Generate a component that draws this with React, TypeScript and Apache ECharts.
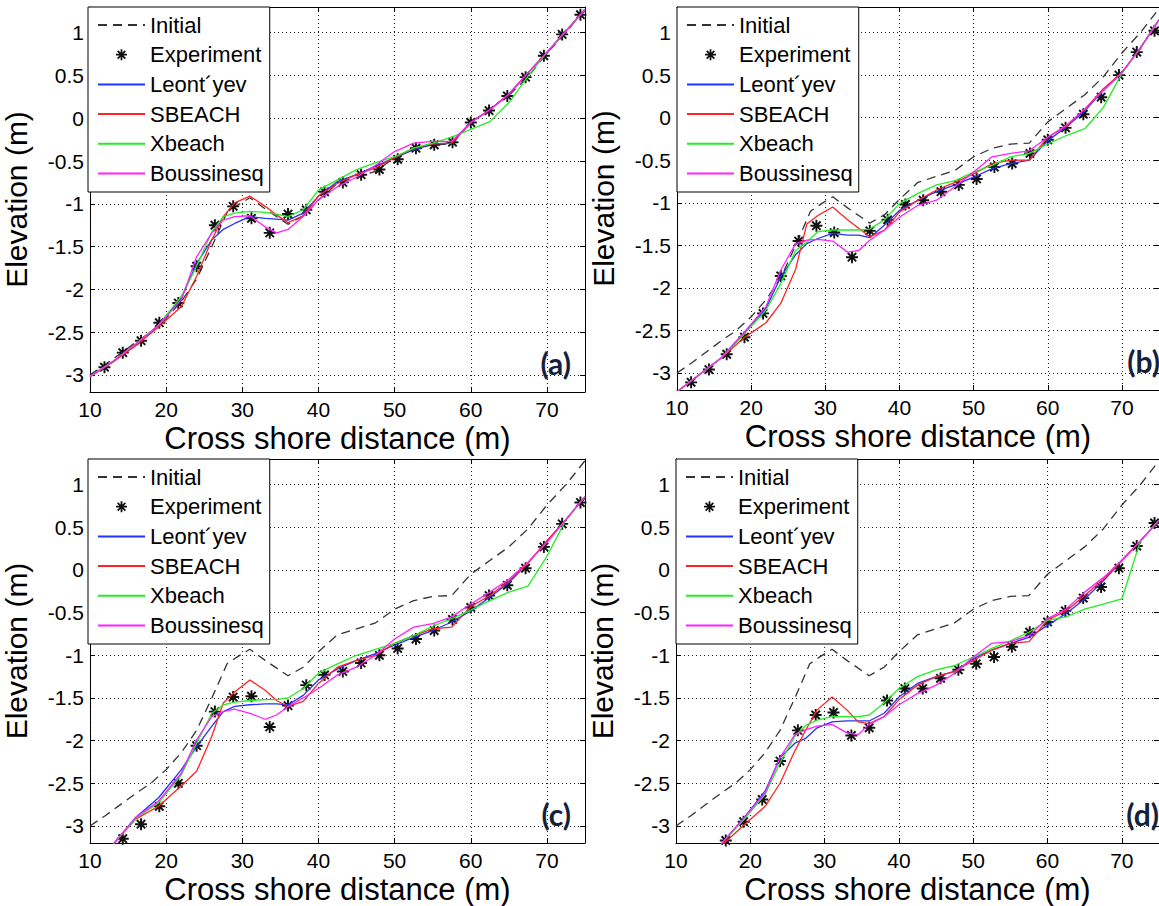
import React, { useEffect, useRef } from 'react';
import * as echarts from 'echarts';

// ---------- data ----------
const SERIES_NAMES = ['Initial', 'Experiment', 'Leont\u00B4yev', 'SBEACH', 'Xbeach', 'Boussinesq'];
const PANEL_LABELS = ['(a)', '(b)', '(c)', '(d)'];
const X_TICKS = [10, 20, 30, 40, 50, 60, 70];
const Y_TICKS = [-3, -2.5, -2, -1.5, -1, -0.5, 0, 0.5, 1];

// initial profile (same in every panel)
const INIT_X = [10, 12, 14, 16, 18, 20, 22, 24, 26, 28, 29.5, 31, 33, 36, 38, 40, 42.5, 45, 47.5, 50, 52.5, 55, 57.5, 60, 62.5, 65, 67.5, 70, 72.5, 75];
const INIT_Y = [-3.0, -2.88, -2.75, -2.62, -2.5, -2.34, -2.14, -1.88, -1.5, -1.1, -1.01, -0.93, -1.06, -1.24, -1.14, -0.96, -0.76, -0.69, -0.62, -0.46, -0.36, -0.31, -0.3, -0.05, 0.11, 0.27, 0.48, 0.76, 1.0, 1.28];

// measurement positions
const EXP_X = [11.9, 14.3, 16.7, 19.1, 21.6, 24.0, 26.4, 28.8, 31.2, 33.6, 36.0, 38.4, 40.8, 43.2, 45.6, 48.0, 50.4, 52.8, 55.2, 57.6, 60.0, 62.4, 64.8, 67.2, 69.6, 72.0, 74.4];
const EXP_A = [-2.91, -2.74, -2.6, -2.39, -2.16, -1.73, -1.25, -1.03, -1.17, -1.34, -1.12, -1.07, -0.86, -0.75, -0.66, -0.6, -0.48, -0.35, -0.31, -0.28, -0.05, 0.09, 0.26, 0.48, 0.73, 0.98, 1.21];
const EXP_B = [-3.11, -2.96, -2.78, -2.58, -2.3, -1.86, -1.45, -1.27, -1.35, -1.64, -1.33, -1.2, -1.02, -0.97, -0.87, -0.79, -0.72, -0.58, -0.54, -0.42, -0.26, -0.12, 0.04, 0.24, 0.5, 0.77, 1.02];
const EXP_C = [-3.33, -3.15, -2.98, -2.77, -2.5, -2.06, -1.66, -1.49, -1.48, -1.84, -1.59, -1.35, -1.23, -1.19, -1.09, -1.0, -0.92, -0.81, -0.71, -0.58, -0.44, -0.3, -0.18, 0.02, 0.27, 0.54, 0.79];
const EXP_D = [-3.55, -3.38, -3.17, -2.95, -2.69, -2.24, -1.88, -1.7, -1.67, -1.94, -1.85, -1.53, -1.39, -1.39, -1.27, -1.17, -1.1, -1.02, -0.9, -0.73, -0.61, -0.48, -0.33, -0.2, 0.02, 0.28, 0.55];

// model output positions
const MODEL_X = [10, 13, 16, 19, 22, 24, 26, 27.5, 29, 31, 33, 34.5, 36, 38, 40, 42.5, 45, 47.5, 50, 52.5, 55, 57.5, 60, 62.5, 65, 67.5, 70, 72.5, 75];

const LEON_A = [-3.02, -2.85, -2.65, -2.42, -2.1, -1.7, -1.42, -1.3, -1.23, -1.15, -1.17, -1.18, -1.19, -1.11, -0.91, -0.74, -0.66, -0.56, -0.46, -0.37, -0.3, -0.29, -0.05, 0.1, 0.28, 0.53, 0.77, 1.02, 1.27];
const SBEA_A = [-3.02, -2.85, -2.66, -2.44, -2.2, -1.85, -1.42, -1.15, -0.99, -0.91, -1.03, -1.13, -1.22, -1.14, -0.91, -0.76, -0.66, -0.58, -0.46, -0.35, -0.3, -0.29, -0.05, 0.1, 0.28, 0.53, 0.77, 1.02, 1.27];
const XBEA_A = [-3.02, -2.84, -2.64, -2.42, -2.08, -1.73, -1.33, -1.15, -1.11, -1.09, -1.1, -1.12, -1.15, -1.07, -0.84, -0.72, -0.6, -0.52, -0.45, -0.35, -0.29, -0.22, -0.13, -0.04, 0.18, 0.49, 0.77, 1.02, 1.27];
const BOUS_A = [-3.02, -2.84, -2.64, -2.42, -2.12, -1.62, -1.34, -1.19, -1.15, -1.14, -1.27, -1.34, -1.3, -1.15, -0.95, -0.8, -0.69, -0.55, -0.39, -0.29, -0.27, -0.27, -0.05, 0.1, 0.28, 0.53, 0.77, 1.02, 1.27];

const LEON_B = [-3.22, -3.02, -2.82, -2.53, -2.24, -1.87, -1.61, -1.48, -1.42, -1.36, -1.38, -1.38, -1.41, -1.26, -1.09, -0.97, -0.87, -0.79, -0.7, -0.6, -0.54, -0.5, -0.27, -0.11, 0.08, 0.32, 0.53, 0.82, 1.15];
const SBEA_B = [-3.22, -3.02, -2.82, -2.59, -2.41, -2.18, -1.78, -1.25, -1.15, -1.05, -1.2, -1.3, -1.4, -1.32, -1.11, -0.97, -0.85, -0.76, -0.66, -0.54, -0.5, -0.5, -0.23, -0.1, 0.1, 0.34, 0.53, 0.82, 1.15];
const XBEA_B = [-3.22, -3.02, -2.82, -2.55, -2.26, -1.95, -1.56, -1.46, -1.34, -1.32, -1.32, -1.32, -1.31, -1.2, -1.01, -0.89, -0.79, -0.74, -0.64, -0.56, -0.46, -0.42, -0.31, -0.21, -0.13, 0.12, 0.52, 0.82, 1.15];
const BOUS_B = [-3.22, -3.02, -2.82, -2.53, -2.22, -1.79, -1.48, -1.44, -1.43, -1.45, -1.58, -1.56, -1.44, -1.32, -1.17, -1.03, -0.97, -0.81, -0.64, -0.46, -0.42, -0.39, -0.23, -0.09, 0.1, 0.32, 0.53, 0.82, 1.15];

const LEON_C = [-3.45, -3.22, -2.9, -2.67, -2.34, -2.07, -1.83, -1.66, -1.6, -1.58, -1.57, -1.57, -1.58, -1.47, -1.29, -1.16, -1.06, -0.98, -0.88, -0.79, -0.71, -0.61, -0.48, -0.32, -0.15, 0.08, 0.34, 0.59, 0.86];
const SBEA_C = [-3.45, -3.22, -2.92, -2.77, -2.53, -2.36, -1.95, -1.56, -1.43, -1.29, -1.41, -1.53, -1.6, -1.54, -1.33, -1.14, -1.06, -1.0, -0.86, -0.77, -0.69, -0.67, -0.43, -0.3, -0.13, 0.08, 0.34, 0.59, 0.86];
const XBEA_C = [-3.45, -3.22, -2.91, -2.73, -2.4, -2.03, -1.68, -1.58, -1.55, -1.53, -1.52, -1.52, -1.5, -1.39, -1.21, -1.1, -1.0, -0.93, -0.86, -0.77, -0.66, -0.57, -0.47, -0.36, -0.26, -0.19, 0.16, 0.59, 0.86];
const BOUS_C = [-3.45, -3.22, -2.9, -2.71, -2.38, -1.99, -1.72, -1.66, -1.63, -1.68, -1.75, -1.7, -1.6, -1.5, -1.39, -1.23, -1.14, -1.0, -0.81, -0.67, -0.63, -0.55, -0.4, -0.26, -0.11, 0.09, 0.32, 0.59, 0.86];

const LEON_D = [-3.75, -3.48, -3.22, -2.92, -2.59, -2.2, -2.03, -1.97, -1.85, -1.78, -1.77, -1.77, -1.77, -1.68, -1.49, -1.33, -1.25, -1.19, -1.04, -0.94, -0.86, -0.79, -0.65, -0.51, -0.34, -0.13, 0.11, 0.34, 0.58];
const SBEA_D = [-3.75, -3.48, -3.24, -3.0, -2.77, -2.5, -2.12, -1.87, -1.64, -1.49, -1.64, -1.78, -1.8, -1.72, -1.52, -1.35, -1.25, -1.19, -1.06, -0.94, -0.86, -0.84, -0.59, -0.48, -0.3, -0.11, 0.11, 0.34, 0.58];
const XBEA_D = [-3.75, -3.48, -3.22, -2.94, -2.63, -2.26, -1.95, -1.82, -1.76, -1.72, -1.72, -1.72, -1.7, -1.56, -1.39, -1.25, -1.17, -1.12, -1.02, -0.92, -0.83, -0.73, -0.59, -0.55, -0.46, -0.4, -0.34, 0.34, 0.58];
const BOUS_D = [-3.75, -3.48, -3.22, -2.92, -2.61, -2.2, -1.93, -1.87, -1.83, -1.81, -1.91, -1.93, -1.81, -1.72, -1.58, -1.45, -1.35, -1.21, -1.02, -0.86, -0.84, -0.77, -0.57, -0.46, -0.26, -0.09, 0.11, 0.34, 0.58];

const PANELS = [
  { exp: EXP_A, leon: LEON_A, sbea: SBEA_A, xbea: XBEA_A, bous: BOUS_A },
  { exp: EXP_B, leon: LEON_B, sbea: SBEA_B, xbea: XBEA_B, bous: BOUS_B },
  { exp: EXP_C, leon: LEON_C, sbea: SBEA_C, xbea: XBEA_C, bous: BOUS_C },
  { exp: EXP_D, leon: LEON_D, sbea: SBEA_D, xbea: XBEA_D, bous: BOUS_D },
];

// ---------- layout / style ----------
const GRIDS = [
  { left: 88, top: 7, width: 497, height: 385 },
  { left: 677, top: 7, width: 497, height: 383 },
  { left: 88, top: 459, width: 497, height: 384 },
  { left: 676, top: 459, width: 497, height: 384 },
];
const FONT = '"Liberation Sans", Arial, Helvetica, sans-serif';
const COLORS = { init: '#333333', exp: '#111111', leon: '#2233ff', sbea: '#ff2222', xbea: '#22ee22', bous: '#ff22ff' };
const STAR =
  'path://M42,0H58V100H42Z M0,42H100V58H0Z M20.7,9.3L90.7,79.3L79.3,90.7L9.3,20.7Z M79.3,9.3L90.7,20.7L20.7,90.7L9.3,79.3Z';

const zip = (xs: number[], ys: number[]) => xs.map((x, k) => [x, ys[k]]);

function buildOption() {
  const xAxis: any[] = [];
  const yAxis: any[] = [];
  const series: any[] = [];
  const legend: any[] = [];
  const graphic: any[] = [];

  GRIDS.forEach((g, i) => {
    xAxis.push({
      gridIndex: i, type: 'value', min: 10, max: 75, position: 'bottom',
      axisLine: { show: true, onZero: false, lineStyle: { color: '#000', width: 1 } },
      axisTick: { show: true, inside: true, length: 5, customValues: X_TICKS, lineStyle: { color: '#000' } },
      axisLabel: { show: true, customValues: X_TICKS, fontSize: 21, fontFamily: FONT, color: '#000', margin: 7 },
      splitLine: { show: true, lineStyle: { type: [1, 3], color: '#222', width: 1.1 } },
      name: 'Cross shore distance (m)', nameLocation: 'middle', nameGap: 31,
      nameTextStyle: { fontSize: 31, fontFamily: FONT, color: '#000' },
    });
    xAxis.push({
      gridIndex: i, type: 'value', min: 10, max: 75, position: 'top',
      axisLine: { show: true, onZero: false, lineStyle: { color: '#000', width: 1 } },
      axisTick: { show: true, inside: true, length: 5, customValues: X_TICKS, lineStyle: { color: '#000' } },
      axisLabel: { show: false }, splitLine: { show: false },
    });
    yAxis.push({
      gridIndex: i, type: 'value', min: -3.2, max: 1.3, position: 'left',
      axisLine: { show: true, onZero: false, lineStyle: { color: '#000', width: 1 } },
      axisTick: { show: true, inside: true, length: 5, customValues: Y_TICKS, lineStyle: { color: '#000' } },
      axisLabel: { show: true, customValues: Y_TICKS, fontSize: 21, fontFamily: FONT, color: '#000', margin: 6 },
      splitLine: { show: true, lineStyle: { type: [1, 3], color: '#222', width: 1.1 } },
      name: 'Elevation (m)', nameLocation: 'middle', nameGap: 59, nameRotate: 90,
      nameTextStyle: { fontSize: 30, fontFamily: FONT, color: '#000' },
    });
    yAxis.push({
      gridIndex: i, type: 'value', min: -3.2, max: 1.3, position: 'right',
      axisLine: { show: true, onZero: false, lineStyle: { color: '#000', width: 1 } },
      axisTick: { show: true, inside: true, length: 5, customValues: Y_TICKS, lineStyle: { color: '#000' } },
      axisLabel: { show: false }, splitLine: { show: false },
    });

    const p = PANELS[i];
    const base = { xAxisIndex: 2 * i, yAxisIndex: 2 * i, clip: true, silent: true };
    const lineSer = (name: string, ys: number[], color: string) => ({
      ...base, type: 'line', name, data: zip(MODEL_X, ys), symbol: 'none', showSymbol: false,
      lineStyle: { color, width: 1.3 }, itemStyle: { color, opacity: 0 }, z: 3,
    });
    series.push({
      ...base, type: 'line', name: SERIES_NAMES[0], data: zip(INIT_X, INIT_Y), symbol: 'none', showSymbol: false,
      lineStyle: { color: COLORS.init, width: 1.3, type: [9, 6] }, itemStyle: { color: COLORS.init, opacity: 0 }, z: 2,
    });
    series.push({
      ...base, type: 'scatter', name: SERIES_NAMES[1], data: zip(EXP_X, p.exp), symbol: STAR, symbolSize: 12,
      itemStyle: { color: COLORS.exp, opacity: 1 }, z: 2,
    });
    series.push(lineSer(SERIES_NAMES[2], p.leon, COLORS.leon));
    series.push(lineSer(SERIES_NAMES[3], p.sbea, COLORS.sbea));
    series.push(lineSer(SERIES_NAMES[4], p.xbea, COLORS.xbea));
    series.push(lineSer(SERIES_NAMES[5], p.bous, COLORS.bous));

    legend.push({
      orient: 'vertical', left: g.left, top: g.top,
      data: SERIES_NAMES.map((n, k) => (k === 1 ? { name: n, itemStyle: { opacity: 1 } } : { name: n, itemStyle: { opacity: 0 } })),
      itemWidth: 47, itemHeight: 11, itemGap: 5.7, padding: [6, 6, 6.5, 9],
      borderColor: '#000', borderWidth: 1, backgroundColor: '#fff', borderRadius: 0,
      selectedMode: false, z: 10, symbolKeepAspect: true,
      textStyle: { fontSize: 22, fontFamily: FONT, color: '#000', lineHeight: 24 },
    });

    graphic.push({
      type: 'text', x: g.left + 483, y: g.top + g.height - 14, z: 20, silent: true,
      style: {
        text: PANEL_LABELS[i], align: 'right', verticalAlign: 'bottom',
        fontSize: 30, fontWeight: 'bold', fontFamily: 'Lato, "Open Sans", sans-serif', fill: '#14213d',
      },
    });
  });

  return {
    animation: false,
    backgroundColor: '#ffffff',
    grid: GRIDS.map((g) => ({ ...g, containLabel: false, show: false })),
    xAxis, yAxis, series, legend, graphic,
  };
}

export default function App() {
  const ref = useRef<HTMLDivElement>(null);
  useEffect(() => {
    document.body.style.margin = '0';
    if (!ref.current) return;
    const chart = echarts.init(ref.current, undefined, { renderer: 'svg' });
    chart.setOption(buildOption() as any);
    return () => chart.dispose();
  }, []);
  return (
    <div
      ref={ref}
      style={{ position: 'absolute', left: 0, top: 0, width: 1159, height: 906, background: '#fff', overflow: 'hidden' }}
    />
  );
}
